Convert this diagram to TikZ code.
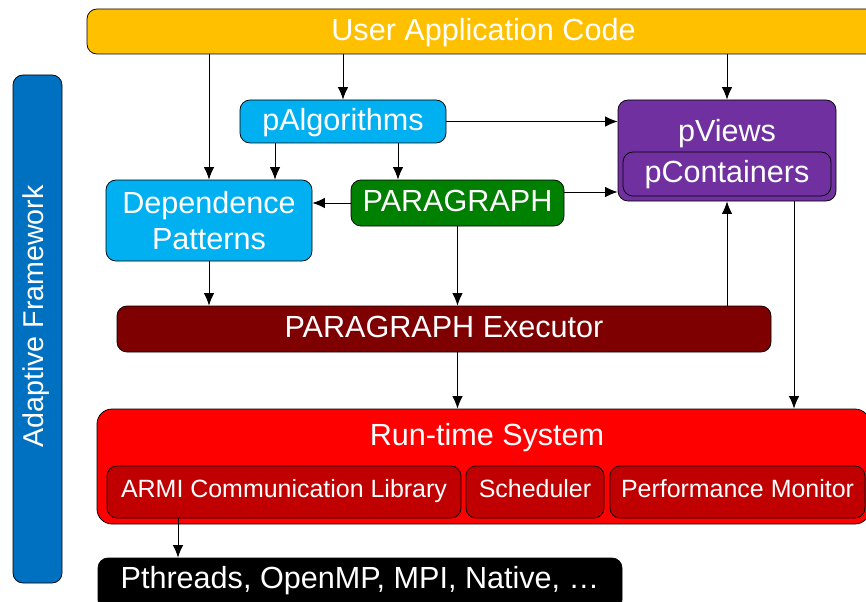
\documentclass[tikz,border=0pt]{standalone}
\usepackage{fontspec}
\setmainfont{Liberation Sans}
\usetikzlibrary{positioning}
\usetikzlibrary{arrows.meta}

\definecolor{userclr}{HTML}{FFC000}
\definecolor{adaptclr}{HTML}{0070C0}
\definecolor{skyclr}{HTML}{00B0F0}
\definecolor{viewclr}{HTML}{7030A0}
\definecolor{graphclr}{HTML}{008000}
\definecolor{execclr}{HTML}{7F0000}
\definecolor{rtsclr}{HTML}{FF0000}
\definecolor{rtspart}{HTML}{C00000}

\newcommand{\bigtxt}{\fontsize{17.4}{20.5}\selectfont}
\newcommand{\smalltxt}{\fontsize{14.2}{16}\selectfont}

\begin{document}
\begin{tikzpicture}[
	>={Latex[length=2.5mm, width=2.1mm]},
	blk/.style={draw, line width={0.15mm}, rounded corners=0.2cm, inner sep=0pt, text=white, font=\bigtxt, text height=12.5pt, text depth=2.5pt},
	subblk/.style={blk, font=\smalltxt, text height=10.2pt, text depth=3.5pt},
	lbl/.style={text=white, font=\bigtxt, inner sep=0pt, text height=12.5pt, text depth=2.5pt},
	link/.style={->, line width={0.2mm}}]
			\useasboundingbox (0,0) rectangle (17.32,-12.04);
			\node[blk, fill=userclr, minimum width=15.86cm, minimum height=0.90cm] (user) at ( 9.67, -0.63) {User Application Code};
			\node[blk, fill=adaptclr, minimum width=0.98cm, minimum height=10.16cm] (adapt) at ( 0.75, -6.58) {};
			\node[lbl, rotate=90, font=\fontsize{16.3}{18}\selectfont, text height=11.7pt, text depth=3.4pt] (adapt-txt) at ( 0.72, -6.33) {Adaptive Framework};
			\node[blk, fill=skyclr, minimum width=4.12cm, minimum height=0.86cm] (palg) at ( 6.86, -2.43) {pAlgorithms};
			\node[blk, fill=viewclr, minimum width=4.36cm, minimum height=2.02cm] (pviews) at (14.54, -3.01) {};
			\node[lbl] (pviews-txt) at (14.54, -2.66) {pViews};
			\node[blk, fill=viewclr, minimum width=4.16cm, minimum height=0.88cm] (pcont) at (14.54, -3.48) {pContainers};
			\node[blk, fill=skyclr, align=center, text height={}, text depth={}, minimum width=4.12cm, minimum height=1.62cm] (dep) at ( 4.18, -4.41) {Dependence\\Patterns};
			\node[blk, fill=graphclr, minimum width=4.26cm, minimum height=0.92cm] (para) at ( 9.15, -4.06) {PARAGRAPH};
			\node[blk, fill=execclr, minimum width=13.08cm, minimum height=0.92cm] (exec) at ( 8.88, -6.58) {PARAGRAPH Executor};
			\node[blk, fill=rtsclr, rounded corners=0.3cm, minimum width=15.46cm, minimum height=2.30cm] (rts) at ( 9.67, -9.33) {};
			\node[lbl] (rts-txt) at ( 9.74, -8.74) {Run-time System};
			\node[subblk, fill=rtspart, minimum width=7.08cm, minimum height=1.04cm] (armi) at ( 5.68, -9.84) {ARMI Communication Library};
			\node[subblk, fill=rtspart, minimum width=2.76cm, minimum height=1.04cm] (sched) at (10.70, -9.84) {Scheduler};
			\node[subblk, fill=rtspart, minimum width=5.10cm, minimum height=1.04cm] (perf) at (14.75, -9.84) {Performance Monitor};
			\node[blk, fill=black, text depth=7.5pt, minimum width=10.48cm, minimum height=1.04cm] (pth) at ( 7.20, -11.68) {Pthreads, OpenMP, MPI, Native, \dots};
			\coordinate (x-alg-dep) at ( 5.50, 0);
			\coordinate (x-alg-para) at ( 7.96, 0);
			\coordinate (y-para-view) at (0, -3.84);
			\coordinate (x-view-rts) at (15.88, 0);
			\coordinate (x-armi-pth) at ( 3.56, 0);
			\draw[link] (user.south -| dep.north) to (dep.north);
			\draw[link] (user.south -| palg.north) to (palg.north);
			\draw[link] (user.south -| pviews.north) to (pviews.north);
			\draw[link] (palg.south -| x-alg-dep) to (dep.north -| x-alg-dep);
			\draw[link] (palg.south -| x-alg-para) to (para.north -| x-alg-para);
			\draw[link] (palg.east) to (palg.east -| pviews.west);
			\draw[link] (para.west) to (para.west -| dep.east);
			\draw[link] (para.east |- y-para-view) to (pviews.west |- y-para-view);
			\draw[link] (dep.south) to (dep.south |- exec.north);
			\draw[link] (para.south) to (para.south |- exec.north);
			\draw[link] (exec.north -| pviews.south) to (pviews.south);
			\draw[link] (exec.south -| para.south) to (rts.north -| para.south);
			\draw[link] (pviews.south -| x-view-rts) to (rts.north -| x-view-rts);
			\draw[link] (armi.south -| x-armi-pth) to (pth.north -| x-armi-pth);
\end{tikzpicture}
\end{document}
